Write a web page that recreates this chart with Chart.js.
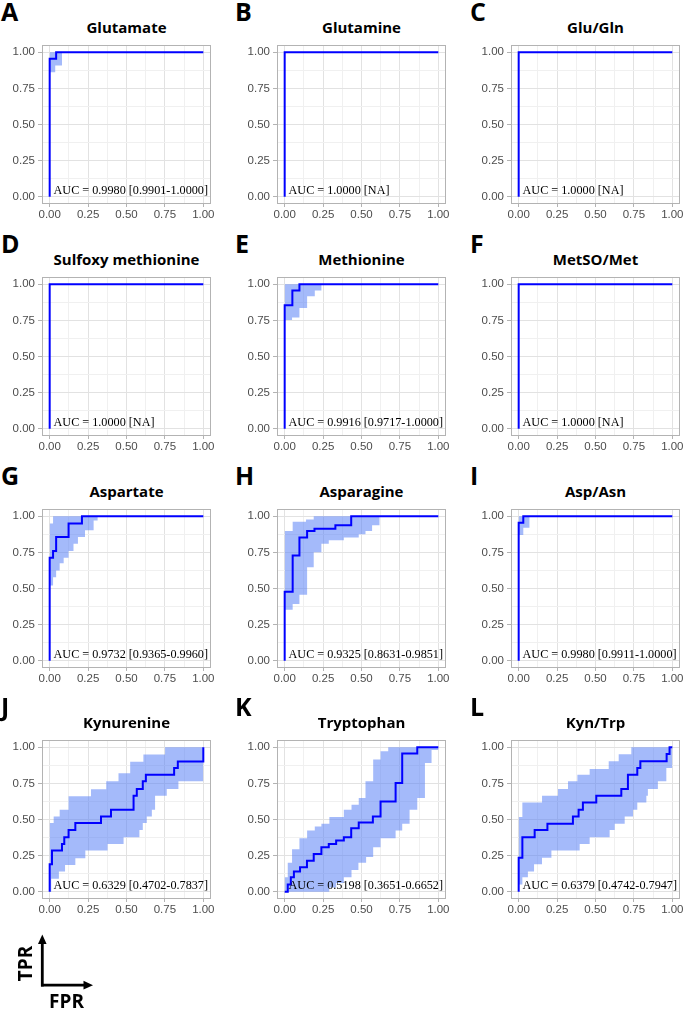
<!DOCTYPE html>
<html>
<head>
<meta charset="utf-8">
<script src="https://cdn.jsdelivr.net/npm/chart.js@4.4.1/dist/chart.umd.min.js"></script>
<style>
html, body { margin: 0; padding: 0; background: #fff; }
body { width: 685px; height: 1009px; position: relative; overflow: hidden; }
.letter { position: absolute; font: 700 25px/25px 'Open Sans', sans-serif; color: #000; }
.title { position: absolute; font: 700 15px/20px 'Open Sans', sans-serif; color: #000; text-align: center; white-space: nowrap; }
canvas { position: absolute; }
svg { position: absolute; left: 0; top: 0; }
</style>
</head>
<body>
<script>
// ---------- data ----------
const panelLetters = ['A','B','C','D','E','F','G','H','I','J','K','L'];
const panelTitles = ['Glutamate','Glutamine','Glu/Gln','Sulfoxy methionine','Methionine','MetSO/Met',
                     'Aspartate','Asparagine','Asp/Asn','Kynurenine','Tryptophan','Kyn/Trp'];
const aucLabels = ['AUC = 0.9980 [0.9901-1.0000]','AUC = 1.0000 [NA]','AUC = 1.0000 [NA]',
                   'AUC = 1.0000 [NA]','AUC = 0.9916 [0.9717-1.0000]','AUC = 1.0000 [NA]',
                   'AUC = 0.9732 [0.9365-0.9960]','AUC = 0.9325 [0.8631-0.9851]','AUC = 0.9980 [0.9911-1.0000]',
                   'AUC = 0.6329 [0.4702-0.7837]','AUC = 0.5198 [0.3651-0.6652]','AUC = 0.6379 [0.4742-0.7947]'];
const tickValues = [0, 0.25, 0.5, 0.75, 1];
const tickLabels = ['0.00', '0.25', '0.50', '0.75', '1.00'];
const minorGridValues = [0.125, 0.375, 0.625, 0.875];

// A Glutamate
const glutamateFpr = [0, 0, 0.042, 1];
const glutamateTpr = [0, 0.955, 1, 1];
const glutamateLoFpr = [0, 0.036, 0.08];
const glutamateLo = [0.862, 0.908, 1];
const glutamateHiFpr = [0];
const glutamateHi = [1];
// B Glutamine
const glutamineFpr = [0, 0, 1];
const glutamineTpr = [0, 1, 1];
// C Glu/Gln
const gluGlnFpr = [0, 0, 1];
const gluGlnTpr = [0, 1, 1];
// D Sulfoxy methionine
const sulfoxyFpr = [0, 0, 1];
const sulfoxyTpr = [0, 1, 1];
// E Methionine
const methionineFpr = [0, 0, 0.05, 0.096, 1];
const methionineTpr = [0, 0.855, 0.956, 1, 1];
const methionineLoFpr = [0, 0.048, 0.096, 0.146, 0.196, 0.239];
const methionineLo = [0.752, 0.77, 0.836, 0.917, 0.956, 1];
const methionineHiFpr = [0];
const methionineHi = [1];
// F MetSO/Met
const metsoMetFpr = [0, 0, 1];
const metsoMetTpr = [0, 1, 1];
// G Aspartate
const aspartateFpr = [0, 0, 0.022, 0.042, 0.123, 0.21, 1];
const aspartateTpr = [0, 0.713, 0.759, 0.856, 0.949, 1, 1];
const aspartateLoFpr = [0, 0.022, 0.042, 0.065, 0.091, 0.123, 0.155, 0.184, 0.23, 0.286, 0.312];
const aspartateLo = [0.52, 0.578, 0.624, 0.675, 0.713, 0.76, 0.81, 0.856, 0.903, 0.97, 1];
const aspartateHiFpr = [0, 0.022];
const aspartateHi = [0.949, 1];
// H Asparagine
const asparagineFpr = [0, 0, 0.052, 0.096, 0.146, 0.194, 0.33, 0.433, 1];
const asparagineTpr = [0, 0.478, 0.729, 0.852, 0.898, 0.914, 0.937, 1, 1];
const asparagineLoFpr = [0, 0.052, 0.096, 0.146, 0.189, 0.239, 0.287, 0.385, 0.482, 0.526, 0.569, 0.617];
const asparagineLo = [0.353, 0.392, 0.457, 0.647, 0.751, 0.81, 0.834, 0.852, 0.876, 0.898, 0.937, 1];
const asparagineHiFpr = [0, 0.052, 0.139, 0.189];
const asparagineHi = [0.898, 0.961, 0.977, 1];
// I Asp/Asn
const aspAsnFpr = [0, 0, 0.03, 1];
const aspAsnTpr = [0, 0.955, 1, 1];
const aspAsnLoFpr = [0, 0.03, 0.07];
const aspAsnLo = [0.87, 0.92, 1];
const aspAsnHiFpr = [0];
const aspAsnHi = [1];
// J Kynurenine
const kynurenineFpr = [0, 0, 0.015, 0.08, 0.095, 0.123, 0.167, 0.334, 0.399, 0.546, 0.567, 0.606, 0.626, 0.81, 0.834, 1];
const kynurenineTpr = [0, 0.19, 0.285, 0.331, 0.378, 0.428, 0.475, 0.521, 0.567, 0.665, 0.711, 0.764, 0.81, 0.856, 0.901, 1];
const kynurenineLoFpr = [0, 0.01, 0.06, 0.1, 0.167, 0.232, 0.377, 0.481, 0.584, 0.606, 0.632, 0.665, 0.686, 0.762, 0.838];
const kynurenineLo = [0, 0.09, 0.14, 0.185, 0.232, 0.285, 0.331, 0.378, 0.428, 0.475, 0.521, 0.567, 0.665, 0.711, 0.764];
const kynurenineHiFpr = [0, 0.026, 0.065, 0.123, 0.269, 0.368, 0.448, 0.524, 0.61, 0.751];
const kynurenineHi = [0.475, 0.521, 0.567, 0.66, 0.71, 0.765, 0.82, 0.9, 0.95, 1];
// K Tryptophan
const tryptophanFpr = [0, 0.02, 0.04, 0.06, 0.1, 0.145, 0.189, 0.239, 0.287, 0.335, 0.385, 0.433, 0.482, 0.574, 0.624, 0.722, 0.765, 0.863, 1];
const tryptophanTpr = [0, 0.05, 0.1, 0.14, 0.17, 0.215, 0.262, 0.308, 0.331, 0.354, 0.378, 0.44, 0.479, 0.521, 0.625, 0.753, 0.956, 1, 1];
const tryptophanLoFpr = [0, 0.29, 0.335, 0.385, 0.435, 0.48, 0.53, 0.576, 0.624, 0.722, 0.765, 0.813, 0.863, 0.913, 0.956];
const tryptophanLo = [0, 0.03, 0.06, 0.1, 0.15, 0.2, 0.24, 0.308, 0.371, 0.424, 0.47, 0.567, 0.648, 0.891, 0.98];
const tryptophanHiFpr = [0, 0.02, 0.048, 0.096, 0.146, 0.196, 0.239, 0.291, 0.385, 0.435, 0.482, 0.526, 0.576, 0.624, 0.674];
const tryptophanHi = [0.1, 0.2, 0.294, 0.371, 0.424, 0.451, 0.47, 0.517, 0.567, 0.602, 0.648, 0.764, 0.915, 0.972, 1];
// L Kyn/Trp
const kynTrpFpr = [0, 0, 0.024, 0.104, 0.187, 0.353, 0.39, 0.418, 0.505, 0.668, 0.711, 0.772, 0.792, 0.963, 0.982, 1];
const kynTrpTpr = [0, 0.236, 0.378, 0.428, 0.47, 0.521, 0.567, 0.618, 0.665, 0.711, 0.81, 0.856, 0.903, 0.954, 1, 1];
const kynTrpLoFpr = [0, 0.024, 0.06, 0.1, 0.152, 0.213, 0.397, 0.462, 0.592, 0.625, 0.69, 0.744, 0.772, 0.831, 0.841, 0.906, 0.961];
const kynTrpLo = [0.05, 0.1, 0.14, 0.19, 0.236, 0.285, 0.331, 0.378, 0.428, 0.47, 0.521, 0.567, 0.618, 0.665, 0.711, 0.764, 0.856];
const kynTrpHiFpr = [0, 0.024, 0.152, 0.256, 0.321, 0.382, 0.462, 0.586, 0.651, 0.733];
const kynTrpHi = [0.517, 0.618, 0.665, 0.711, 0.764, 0.81, 0.85, 0.903, 0.951, 1];

// ---------- build ----------
const panelSeries = [
  [glutamateFpr, glutamateTpr, glutamateLoFpr, glutamateLo, glutamateHiFpr, glutamateHi],
  [glutamineFpr, glutamineTpr],
  [gluGlnFpr, gluGlnTpr],
  [sulfoxyFpr, sulfoxyTpr],
  [methionineFpr, methionineTpr, methionineLoFpr, methionineLo, methionineHiFpr, methionineHi],
  [metsoMetFpr, metsoMetTpr],
  [aspartateFpr, aspartateTpr, aspartateLoFpr, aspartateLo, aspartateHiFpr, aspartateHi],
  [asparagineFpr, asparagineTpr, asparagineLoFpr, asparagineLo, asparagineHiFpr, asparagineHi],
  [aspAsnFpr, aspAsnTpr, aspAsnLoFpr, aspAsnLo, aspAsnHiFpr, aspAsnHi],
  [kynurenineFpr, kynurenineTpr, kynurenineLoFpr, kynurenineLo, kynurenineHiFpr, kynurenineHi],
  [tryptophanFpr, tryptophanTpr, tryptophanLoFpr, tryptophanLo, tryptophanHiFpr, tryptophanHi],
  [kynTrpFpr, kynTrpTpr, kynTrpLoFpr, kynTrpLo, kynTrpHiFpr, kynTrpHi]
];

const LINE_COLOR = '#0000ff';
const RIBBON_COLOR = 'rgba(92,132,246,0.56)';
const plotLefts = [42, 277, 511];
const plotTops = [45, 277, 509, 740];
const PLOT_W = 169, PLOT_H = 159;
const Y_AXIS_W = 42, X_AXIS_H = 22, PAD_TOP = 14, PAD_RIGHT = 10;
const letterLefts = [1, 235, 470];

const gridValues = [...tickValues, ...minorGridValues].sort((a, b) => a - b);
const isMajor = v => tickValues.some(t => Math.abs(t - v) < 1e-9);

function stepValue(xs, ys, x) {
  let v = ys[0];
  for (let i = 0; i < xs.length; i++) if (xs[i] <= x + 1e-9) v = ys[i];
  return v;
}

function axisOptions(isX) {
  return {
    type: 'linear', min: -0.05, max: 1.05,
    afterBuildTicks: s => { s.ticks = gridValues.map(v => ({ value: v })); },
    afterFit: s => {
      if (isX) { s.height = X_AXIS_H; s.paddingLeft = 0; s.paddingRight = 0; }
      else { s.width = Y_AXIS_W; s.paddingTop = 0; s.paddingBottom = 0; }
    },
    ticks: {
      autoSkip: false, maxRotation: 0, minRotation: 0,
      color: '#4d4d4d',
      font: { family: "'Liberation Sans', Arial, sans-serif", size: 11.5 },
      padding: isX ? 1 : 3,
      callback: v => { const i = tickValues.findIndex(t => Math.abs(t - v) < 1e-9); return i >= 0 ? tickLabels[i] : ''; }
    },
    grid: {
      color: c => (c.tick && isMajor(c.tick.value)) ? '#e2e2e2' : '#f0f0f0',
      lineWidth: 1,
      drawTicks: true,
      tickLength: isX ? 3 : 4,
      tickColor: c => (c.tick && isMajor(c.tick.value)) ? '#b3b3b3' : 'rgba(0,0,0,0)'
    },
    border: { display: false }
  };
}

const panelDecor = {
  id: 'panelDecor',
  afterDatasetsDraw(chart, args, opts) {
    const { ctx, chartArea: a, scales } = chart;
    ctx.save();
    ctx.strokeStyle = '#b3b3b3';
    ctx.lineWidth = 1;
    ctx.strokeRect(Math.round(a.left) + 0.5, Math.round(a.top) + 0.5,
                   Math.round(a.right - a.left) - 1, Math.round(a.bottom - a.top) - 1);
    ctx.font = "12.2px 'Liberation Serif', 'Times New Roman', serif";
    ctx.fillStyle = '#000';
    ctx.textAlign = 'left';
    ctx.textBaseline = 'alphabetic';
    ctx.fillText(opts.label, scales.x.getPixelForValue(0.025), scales.y.getPixelForValue(0.016));
    ctx.restore();
  }
};

panelSeries.forEach((s, k) => {
  const r = Math.floor(k / 3), c = k % 3;
  const pl = plotLefts[c], pt = plotTops[r];

  const letter = document.createElement('div');
  letter.className = 'letter';
  letter.textContent = panelLetters[k];
  letter.style.left = letterLefts[c] + 'px';
  letter.style.top = (pt - 46.5) + 'px';
  document.body.appendChild(letter);

  const title = document.createElement('div');
  title.className = 'title';
  title.textContent = panelTitles[k];
  title.style.left = pl + 'px';
  title.style.width = PLOT_W + 'px';
  title.style.top = (pt - 28) + 'px';
  document.body.appendChild(title);

  const cv = document.createElement('canvas');
  const W = Y_AXIS_W + PLOT_W + PAD_RIGHT, H = PAD_TOP + PLOT_H + X_AXIS_H;
  cv.width = W; cv.height = H;
  cv.style.width = W + 'px'; cv.style.height = H + 'px';
  cv.style.left = (pl - Y_AXIS_W) + 'px';
  cv.style.top = (pt - PAD_TOP) + 'px';
  document.body.appendChild(cv);

  const [fpr, tpr, loX, lo, hiX, hi] = s;
  const datasets = [{
    data: fpr.map((x, i) => ({ x, y: tpr[i] })),
    showLine: true, stepped: true, borderColor: LINE_COLOR, borderWidth: 2,
    pointRadius: 0, fill: false
  }];
  if (loX) {
    const xs = Array.from(new Set([...loX, ...hiX, 1])).sort((a, b) => a - b);
    datasets.push({
      data: xs.map(x => ({ x, y: stepValue(hiX, hi, x) })),
      showLine: true, stepped: true, borderColor: 'rgba(0,0,0,0)', borderWidth: 0,
      pointRadius: 0, fill: '+1', backgroundColor: RIBBON_COLOR
    });
    datasets.push({
      data: xs.map(x => ({ x, y: stepValue(loX, lo, x) })),
      showLine: true, stepped: true, borderColor: 'rgba(0,0,0,0)', borderWidth: 0,
      pointRadius: 0, fill: false
    });
  }

  new Chart(cv, {
    type: 'scatter',
    data: { datasets },
    options: {
      responsive: false, animation: false, devicePixelRatio: 1, events: [],
      layout: { padding: { left: 0, top: PAD_TOP, right: PAD_RIGHT, bottom: 0 } },
      scales: { x: axisOptions(true), y: axisOptions(false) },
      plugins: { legend: { display: false }, tooltip: { enabled: false }, title: { display: false },
                 panelDecor: { label: aucLabels[k] } }
    },
    plugins: [panelDecor]
  });
});

// TPR / FPR axis key
const svgNS = 'http://www.w3.org/2000/svg';
const svg = document.createElementNS(svgNS, 'svg');
svg.setAttribute('width', '685'); svg.setAttribute('height', '1009');
svg.innerHTML =
  '<line x1="42.3" y1="986.5" x2="42.3" y2="943" stroke="#000" stroke-width="2.8"/>' +
  '<polygon points="38,944 46.6,944 42.3,934.5" fill="#000"/>' +
  '<line x1="41" y1="985.2" x2="84" y2="985.2" stroke="#000" stroke-width="2.8"/>' +
  '<polygon points="83.5,980.8 83.5,989.6 93,985.2" fill="#000"/>' +
  '<text transform="translate(31.7,963.5) rotate(-90)" text-anchor="middle" font-family="Open Sans" font-weight="700" font-size="19">TPR</text>' +
  '<text x="66.5" y="1008" text-anchor="middle" font-family="Open Sans" font-weight="700" font-size="19">FPR</text>';
document.body.appendChild(svg);
</script>
</body>
</html>
